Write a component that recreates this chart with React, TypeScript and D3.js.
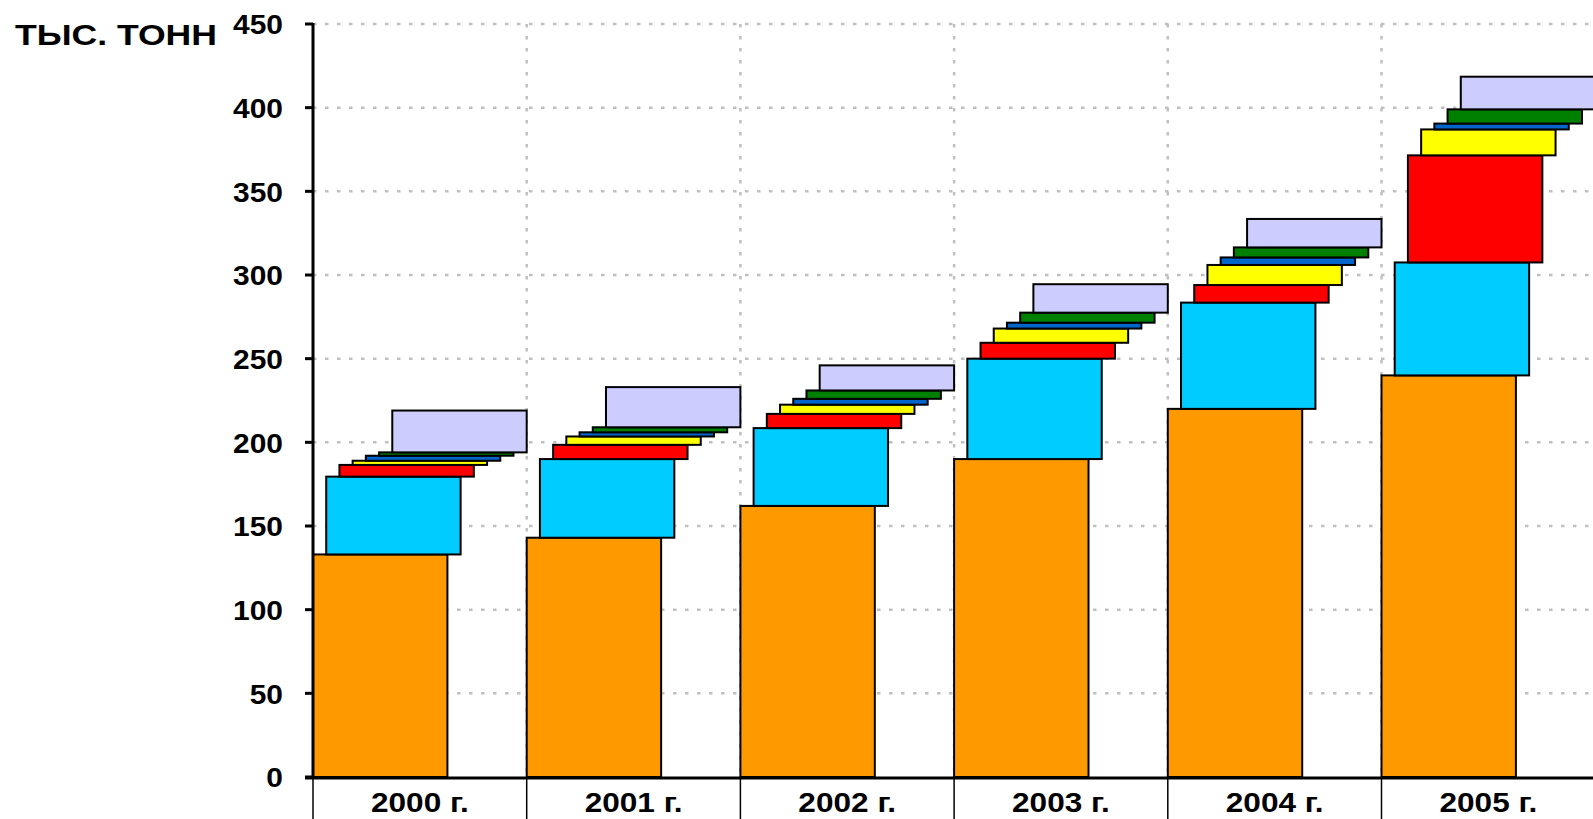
import React from "react";
import * as d3 from "d3";

// years along the x axis
const years = ["2000 г.", "2001 г.", "2002 г.", "2003 г.", "2004 г.", "2005 г."];

// stacked series, bottom to top (тыс. тонн)
const orange = [133, 143, 162, 190, 220, 240];
const cyan = [46.5, 47, 46.5, 60, 63.5, 67.5];
const red = [7, 8.5, 8.5, 9.5, 10.5, 64];
const yellow = [2.5, 5, 5.5, 8.5, 12, 15.5];
const blue = [3, 2.5, 3.5, 3.5, 4.5, 3.5];
const green = [2, 3, 5, 6, 6, 8.5];
const lavender = [25, 24, 15, 17, 17, 19.5];

const yTicks = [0, 50, 100, 150, 200, 250, 300, 350, 400, 450];

const seriesKeys = ["orange", "cyan", "red", "yellow", "blue", "green", "lavender"];
const seriesColors = ["#FF9900", "#00CCFF", "#FF0000", "#FFFF00", "#0066CC", "#008000", "#CCCCFF"];
const seriesValues = [orange, cyan, red, yellow, blue, green, lavender];

const W = 1593;
const H = 819;
const font = "'Liberation Sans', Arial, sans-serif";

const App = () => {
  const rows = years.map((year, i) => {
    const row: any = { year };
    seriesKeys.forEach((k, s) => (row[k] = seriesValues[s][i]));
    return row;
  });
  const stacked = d3.stack().keys(seriesKeys)(rows);

  const x = d3.scaleBand().domain(years).range([313, 313 + 6 * 213.7]).padding(0);
  const y = d3.scaleLinear().domain([0, 450]).range([777, 24]);

  const band = x.bandwidth();
  const barW = band * 0.629;
  const shift = (band - barW) / (seriesKeys.length - 1);

  const x0 = x(years[0]) as number;

  return (
    <svg width={W} height={H} style={{ position: "absolute", left: 0, top: 0 }}>
      <rect width={W} height={H} fill="#fff" />
      {/* horizontal grid */}
      {yTicks.slice(1).map((t) => (
        <line key={"h" + t} x1={x0} x2={W} y1={y(t)} y2={y(t)} stroke="#c0c0c0" strokeWidth={2.5} strokeDasharray="3.5 8.5" />
      ))}
      {/* vertical grid at category boundaries */}
      {years.slice(1).map((yr) => (
        <line key={"v" + yr} x1={x(yr)} x2={x(yr)} y1={y(450)} y2={y(0)} stroke="#c0c0c0" strokeWidth={2.5} strokeDasharray="3.5 8.5" />
      ))}
      {/* bars */}
      {years.map((yr, i) =>
        stacked.map((layer, s) => (
          <rect
            key={yr + s}
            x={(x(yr) as number) + s * shift}
            y={y(layer[i][1])}
            width={barW}
            height={y(layer[i][0]) - y(layer[i][1])}
            fill={seriesColors[s]}
            stroke="#000"
            strokeWidth={2}
          />
        ))
      )}
      {/* y axis */}
      <line x1={x0} x2={x0} y1={y(450) - 1} y2={y(0)} stroke="#000" strokeWidth={3} />
      {yTicks.map((t) => (
        <g key={"t" + t}>
          <line x1={x0 - 8} x2={x0} y1={y(t)} y2={y(t)} stroke="#000" strokeWidth={3} />
          <text
            transform={`translate(283,${y(t)}) scale(1.05,1)`}
            dy="0.36em"
            textAnchor="end"
            fontFamily={font}
            fontWeight="bold"
            fontSize={28.5}
          >
            {t}
          </text>
        </g>
      ))}
      {/* x axis */}
      <line x1={x0 - 8} x2={W} y1={y(0) + 1} y2={y(0) + 1} stroke="#000" strokeWidth={3} />
      {years.map((yr) => (
        <g key={"x" + yr}>
          <line x1={x(yr)} x2={x(yr)} y1={y(0) + 2} y2={H} stroke="#000" strokeWidth={1.5} />
          <text
            transform={`translate(${(x(yr) as number) + band / 2},812) scale(1.17,1)`}
            textAnchor="middle"
            fontFamily={font}
            fontWeight="bold"
            fontSize={27}
          >
            {yr}
          </text>
        </g>
      ))}
      <text x={15} y={45} fontFamily={font} fontWeight="bold" fontSize={29} textLength={202} lengthAdjust="spacingAndGlyphs">
        ТЫС. ТОНН
      </text>
    </svg>
  );
};

export default App;
